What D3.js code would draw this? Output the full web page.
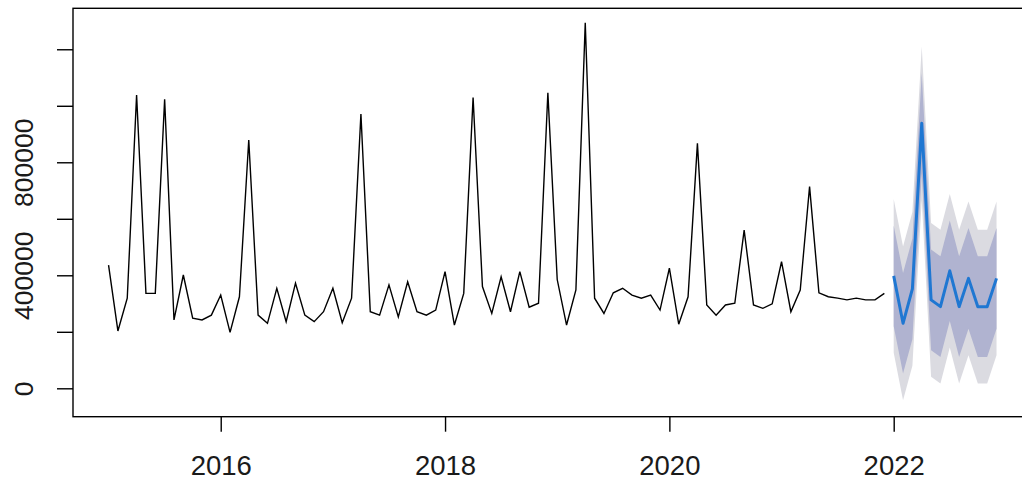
<!DOCTYPE html>
<html>
<head>
<meta charset="utf-8">
<script src="https://cdn.jsdelivr.net/npm/d3@7"></script>
<style>
  body { margin: 0; background: #fff; }
  svg { display: block; }
</style>
</head>
<body>
<div id="chart"></div>
<script>
// monthly series starting Jan 2015, forecast starts Jan 2022
const startYear = 2015;

const observed = [
  436000, 203000, 319000, 1038000, 336000, 336000, 1023000, 242000, 401000, 248000, 242000, 259000,
  330000, 198000, 324000, 879000, 259000, 230000, 354000, 236000, 372000, 259000, 236000, 271000,
  354000, 232000, 319000, 971000, 271000, 259000, 366000, 253000, 377000, 271000, 259000, 277000,
  413000, 224000, 336000, 1029000, 360000, 265000, 395000, 271000, 413000, 287000, 301000, 1046000,
  385000, 224000, 348000, 1294000, 319000, 265000, 338000, 354000, 330000, 319000, 330000, 277000,
  425000, 227000, 324000, 867000, 295000, 259000, 295000, 301000, 560000, 295000, 283000, 299000,
  448000, 271000, 348000, 714000, 338000, 324000, 319000, 313000, 319000, 313000, 313000, 336000
];

const forecastMean = [398000, 230000, 352000, 938000, 313000, 289000, 416000, 289000, 389000, 289000, 289000, 389000];
const hi80 = [576000, 408000, 530000, 1116000, 491000, 467000, 594000, 467000, 567000, 467000, 467000, 567000];
const lo80 = [220000, 52000, 174000, 760000, 135000, 111000, 238000, 111000, 211000, 111000, 111000, 211000];
const hi95 = [670000, 502000, 624000, 1210000, 585000, 561000, 688000, 561000, 661000, 561000, 561000, 661000];
const lo95 = [126000, -42000, 80000, 666000, 41000, 17000, 144000, 17000, 117000, 17000, 17000, 117000];

const xTicks = [2016, 2018, 2020, 2022];
const yTicks = [0, 200000, 400000, 600000, 800000, 1000000, 1200000];
const yLabels = [0, 400000, 800000];

const width = 1022, height = 484;
const plot = { left: 73, top: 8.3, right: 1032, bottom: 416.7 };

const svg = d3.select("#chart").append("svg")
  .attr("width", width)
  .attr("height", height);

const xScale = d3.scaleLinear().domain([2014.683, 2023.233]).range([plot.left, plot.right]);
const yScale = d3.scaleLinear().domain([-100500, 1345000]).range([plot.bottom, plot.top]);

const obsData = observed.map((v, i) => ({ t: startYear + i / 12, v: v }));
const fcStart = startYear + observed.length / 12;
const fcData = forecastMean.map((v, i) => ({
  t: fcStart + i / 12, v: v, hi80: hi80[i], lo80: lo80[i], hi95: hi95[i], lo95: lo95[i]
}));

// prediction bands
let area95 = d3.area()
  .x(d => xScale(d.t))
  .y0(d => yScale(d.lo95))
  .y1(d => yScale(d.hi95));

let area80 = d3.area()
  .x(d => xScale(d.t))
  .y0(d => yScale(d.lo80))
  .y1(d => yScale(d.hi80));

svg.append("path")
  .datum(fcData)
  .attr("d", area95)
  .style("fill", "#DBDBE1");

svg.append("path")
  .datum(fcData)
  .attr("d", area80)
  .style("fill", "#B0B3D0");

let line = d3.line()
  .x(d => xScale(d.t))
  .y(d => yScale(d.v));

svg.append("path")
  .datum(obsData)
  .attr("d", line)
  .style("fill", "none")
  .style("stroke", "#000")
  .style("stroke-width", 1.4);

svg.append("path")
  .datum(fcData)
  .attr("d", line)
  .style("fill", "none")
  .style("stroke", "#1F77D2")
  .style("stroke-width", 3)
  .style("stroke-linejoin", "round");

// frame
svg.append("rect")
  .attr("x", plot.left)
  .attr("y", plot.top)
  .attr("width", plot.right - plot.left)
  .attr("height", plot.bottom - plot.top)
  .style("fill", "none")
  .style("stroke", "#000")
  .style("stroke-width", 1.4);

// x axis
let xAxis = svg.append("g")
  .attr("transform", "translate(0," + plot.bottom + ")")
  .call(d3.axisBottom(xScale).tickValues(xTicks).tickSize(15).tickPadding(24).tickFormat(d3.format("d")));

xAxis.select(".domain").remove();
xAxis.selectAll("line").style("stroke", "#000").style("stroke-width", 1.4);
xAxis.selectAll("text")
  .attr("font-family", "'Liberation Sans', Arial, sans-serif")
  .attr("font-size", 27.5)
  .style("fill", "#1a1a1a");

// y axis
let yAxis = svg.append("g")
  .attr("transform", "translate(" + plot.left + ",0)")
  .call(d3.axisLeft(yScale).tickValues(yTicks).tickSize(16)
    .tickFormat(d => yLabels.includes(d) ? d3.format("d")(d) : ""));

yAxis.select(".domain").remove();
yAxis.selectAll("line").style("stroke", "#000").style("stroke-width", 1.4);
yAxis.selectAll("text")
  .attr("font-family", "'Liberation Sans', Arial, sans-serif")
  .attr("font-size", 26.5)
  .attr("text-anchor", "middle")
  .attr("transform", "rotate(-90)")
  .attr("x", 0)
  .attr("y", -40)
  .attr("dy", 0)
  .style("fill", "#1a1a1a");
</script>
</body>
</html>
